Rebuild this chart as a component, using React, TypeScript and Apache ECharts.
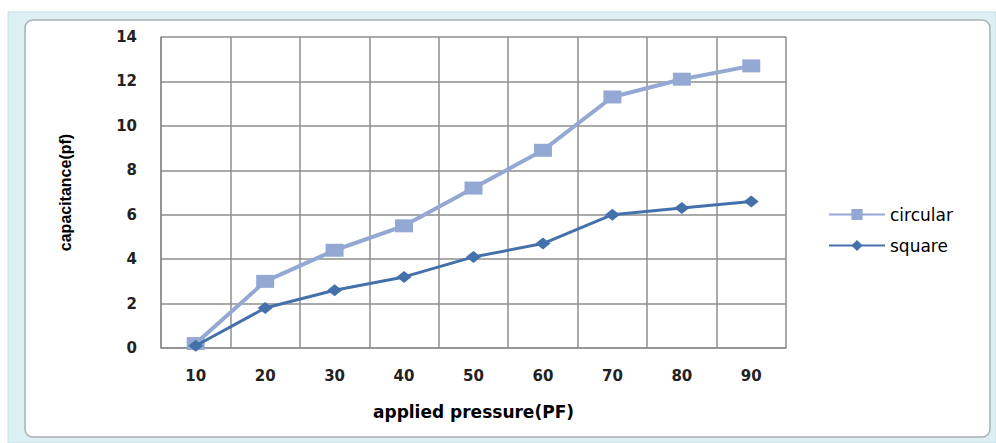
import React, { useEffect, useRef } from "react";
import * as echarts from "echarts";

const categories = ["10", "20", "30", "40", "50", "60", "70", "80", "90"];
const circular = [0.2, 3.0, 4.4, 5.5, 7.2, 8.9, 11.3, 12.1, 12.7];
const square = [0.1, 1.8, 2.6, 3.2, 4.1, 4.7, 6.0, 6.3, 6.6];

const gridColor = "#8E8E8E";
const circColor = "#93A9D3";
const sqColor = "#4571AB";

export default function App() {
  const ref = useRef<HTMLDivElement>(null);
  useEffect(() => {
    document.body.style.margin = "0";
    const chart = echarts.init(ref.current!, null, { renderer: "svg" });
    chart.setOption({
      animation: false,
      backgroundColor: "#ffffff",
      graphic: [
        { type: "rect", z: -10, shape: { x: 8, y: 12, width: 988, height: 431 }, style: { fill: "#DDF0F4", stroke: "#C4DEE6", lineWidth: 1 } },
        { type: "rect", z: -9, shape: { x: 25, y: 20, width: 965, height: 417, r: 8 }, style: { fill: "#ffffff", stroke: "#A8B0B4", lineWidth: 1.5 } },
      ],
      grid: { left: 161, right: 210, top: 37, bottom: 95, containLabel: false },
      legend: {
        orient: "vertical",
        left: 823,
        top: 201,
        itemWidth: 56,
        itemHeight: 14,
        itemGap: 14,
        textStyle: { fontFamily: "DejaVu Sans", fontSize: 17, color: "#000" },
        data: ["circular", "square"],
      },
      xAxis: {
        type: "category",
        data: categories,
        boundaryGap: true,
        name: "applied pressure(PF)",
        nameLocation: "middle",
        nameGap: 55,
        nameTextStyle: { fontFamily: "DejaVu Sans", fontSize: 17, fontWeight: "bold", color: "#000" },
        axisLine: { show: true, lineStyle: { color: gridColor, width: 1.5 } },
        axisTick: { show: false },
        axisLabel: { margin: 20, fontFamily: "DejaVu Sans", fontSize: 15, fontWeight: "bold", color: "#222" },
        splitLine: { show: true, lineStyle: { color: gridColor, width: 1.5 } },
      },
      yAxis: {
        type: "value",
        min: 0,
        max: 14,
        interval: 2,
        name: "capacitance(pf)",
        nameLocation: "middle",
        nameGap: 88,
        nameRotate: 90,
        nameTextStyle: { fontFamily: "Liberation Sans Narrow, Liberation Sans", fontSize: 16, fontWeight: "bold", color: "#000" },
        axisLine: { show: true, lineStyle: { color: gridColor, width: 1.5 } },
        axisTick: { show: false },
        axisLabel: { margin: 24, fontFamily: "DejaVu Sans", fontSize: 15, fontWeight: "bold", color: "#222" },
        splitLine: { show: true, lineStyle: { color: gridColor, width: 1.5 } },
      },
      series: [
        {
          name: "circular",
          type: "line",
          data: circular,
          symbol: "rect",
          symbolSize: [18, 13],
          itemStyle: { color: circColor },
          lineStyle: { color: circColor, width: 4 },
          z: 2,
        },
        {
          name: "square",
          type: "line",
          data: square,
          symbol: "diamond",
          symbolSize: [15, 12],
          itemStyle: { color: sqColor },
          lineStyle: { color: sqColor, width: 3 },
          z: 3,
        },
      ],
    });
    return () => chart.dispose();
  }, []);
  return <div ref={ref} style={{ width: 996, height: 443 }} />;
}
